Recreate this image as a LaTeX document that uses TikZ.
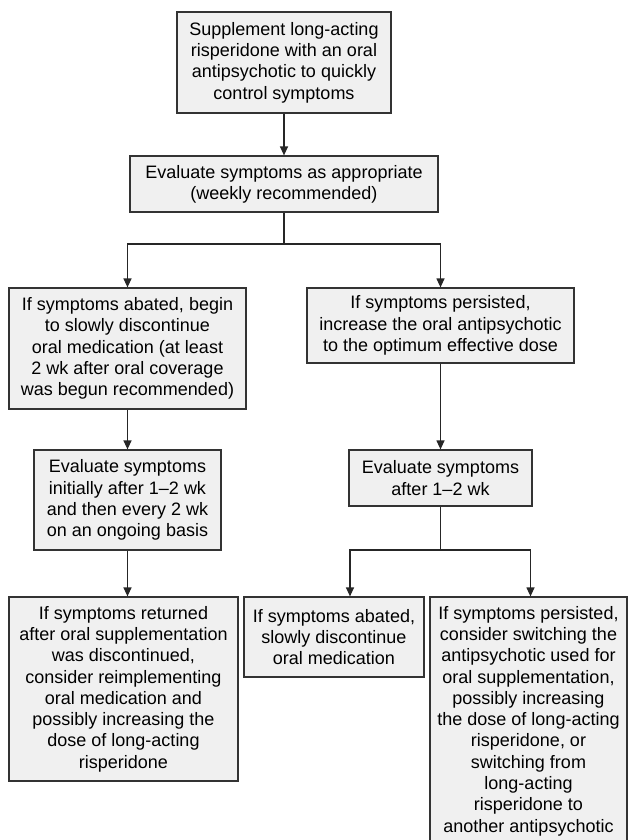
\documentclass[tikz,border=0pt]{standalone}
\usepackage{fontspec}
\setmainfont{Liberation Sans}
\usetikzlibrary{arrows.meta, positioning}

\begin{document}
\begin{tikzpicture}[x=1pt, y=-1pt,
  box/.style={draw=black!80, fill=black!6, line width=1.2pt, align=center, inner sep=2pt, font=\fontsize{18}{21.3}\selectfont},
  arr/.style={-{Triangle[length=9pt, width=8pt]}, draw=black!85, line width=1.2pt}]
\useasboundingbox (0,0) rectangle (628,840);
% first steps
\node[box, minimum width=214, minimum height=101] (supp) at (284,62.5) {Supplement long-acting\\risperidone with an oral\\antipsychotic to quickly\\control symptoms};
\node[box, minimum width=308, minimum height=56] (evalwk) at (284,184) {Evaluate symptoms as appropriate\\(weekly recommended)};
% two branches
\node[box, minimum width=237, minimum height=121] (abated) at (127.5,348.5) {If symptoms abated, begin\\to slowly discontinue\\oral medication (at least\\2 wk after oral coverage\\was begun recommended)};
\node[box, minimum width=267, minimum height=75] (persist) at (440.5,325.5) {If symptoms persisted,\\increase the oral antipsychotic\\to the optimum effective dose};
\node[box, minimum width=187, minimum height=100] (evalL) at (127.5,500) {Evaluate symptoms\\initially after 1--2 wk\\and then every 2 wk\\on an ongoing basis};
\node[box, minimum width=183, minimum height=56] (evalR) at (440.5,478) {Evaluate symptoms\\after 1--2 wk};
% outcomes
\node[box, minimum width=229, minimum height=184] (returned) at (123.5,689) {If symptoms returned\\after oral supplementation\\was discontinued,\\consider reimplementing\\oral medication and\\possibly increasing the\\dose of long-acting\\risperidone};
\node[box, minimum width=180, minimum height=80] (stopR) at (334,637) {If symptoms abated,\\slowly discontinue\\oral medication};
\node[box, minimum width=197, minimum height=248] (switch) at (528.5,721) {If symptoms persisted,\\consider switching the\\antipsychotic used for\\oral supplementation,\\possibly increasing\\the dose of long-acting\\risperidone, or\\switching from\\long-acting\\risperidone to\\another antipsychotic};
% connectors
\coordinate (split1) at (284,244);
\coordinate (split2) at (440.5,550);
\draw[arr] (supp) -- (evalwk);
\draw[arr, -] (evalwk) -- (split1);
\draw[arr] (split1) -| (abated);
\draw[arr] (split1) -| (persist);
\draw[arr] (abated) -- (evalL);
\draw[arr] (persist) -- (evalR);
\draw[arr] (evalL.south) -- (evalL.south |- returned.north);
\draw[arr, -] (evalR) -- (split2);
\draw[arr] (split2) -| ([xshift=16pt]stopR.north);
\draw[arr] (split2) -| ([xshift=2pt]switch.north);
\end{tikzpicture}
\end{document}
